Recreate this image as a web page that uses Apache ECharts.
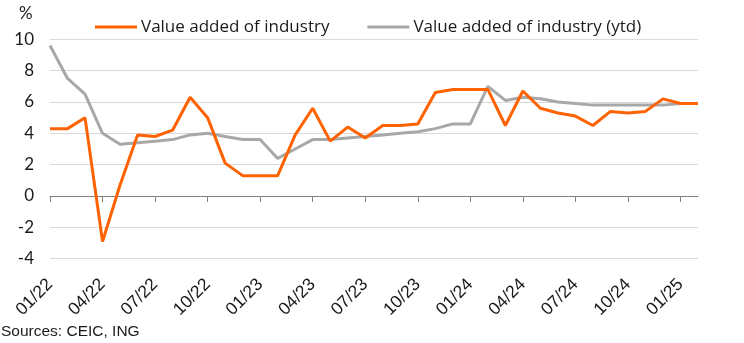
<!DOCTYPE html>
<html>
<head>
<meta charset="utf-8">
<script src="https://cdn.jsdelivr.net/npm/echarts@6/dist/echarts.min.js"></script>
<style>
  html, body { margin: 0; padding: 0; background: #fff; }
  #chart { width: 744px; height: 343px; }
</style>
</head>
<body>
<div id="chart"></div>
<script>
// Monthly observations, 01/22 to 02/25
const months = [
  '01/22','02/22','03/22','04/22','05/22','06/22','07/22','08/22','09/22','10/22','11/22','12/22',
  '01/23','02/23','03/23','04/23','05/23','06/23','07/23','08/23','09/23','10/23','11/23','12/23',
  '01/24','02/24','03/24','04/24','05/24','06/24','07/24','08/24','09/24','10/24','11/24','12/24',
  '01/25','02/25'
];

// Value added of industry, % YoY
const industryYoY = [
  4.3, 4.3, 5.0, -2.9, 0.7, 3.9, 3.8, 4.2, 6.3, 5.0, 2.1, 1.3,
  1.3, 1.3, 3.9, 5.6, 3.5, 4.4, 3.7, 4.5, 4.5, 4.6, 6.6, 6.8,
  6.8, 6.8, 4.5, 6.7, 5.6, 5.3, 5.1, 4.5, 5.4, 5.3, 5.4, 6.2,
  5.9, 5.9
];

// Value added of industry, year-to-date % YoY
const industryYtd = [
  9.6, 7.5, 6.5, 4.0, 3.3, 3.4, 3.5, 3.6, 3.9, 4.0, 3.8, 3.6,
  3.6, 2.4, 3.0, 3.6, 3.6, 3.7, 3.8, 3.9, 4.0, 4.1, 4.3, 4.6,
  4.6, 7.0, 6.1, 6.3, 6.2, 6.0, 5.9, 5.8, 5.8, 5.8, 5.8, 5.8,
  5.9, 5.9
];

const seriesNames = ['Value added of industry', 'Value added of industry (ytd)'];
const yTicks = { min: -4, max: 10, step: 2 };

const ORANGE = '#FF6200';
const GREY = '#A8A8A8';
const FONT = 'Lato, "Noto Sans", sans-serif';
const LEGEND_FONT = '"Open Sans", "Noto Sans", sans-serif';
const LABEL_FONT = '"Liberation Sans", Arial, sans-serif';

const chart = echarts.init(document.getElementById('chart'), null, { renderer: 'canvas' });

chart.setOption({
  animation: false,
  backgroundColor: '#fff',
  grid: { left: 50, right: 46, top: 39.3, bottom: 84.3, containLabel: false },
  legend: {
    left: 90,
    top: 13.5,
    icon: 'rect',
    itemWidth: 42,
    itemHeight: 3,
    itemGap: 38,
    textStyle: { fontFamily: LEGEND_FONT, fontSize: 17, color: '#1a1a1a', padding: [0, 0, 0, -1] },
    data: seriesNames
  },
  graphic: [
    {
      type: 'text', left: 19, top: 5,
      style: { text: '%', font: '17px ' + FONT, fill: '#1a1a1a' }
    },
    {
      type: 'text', left: 1, top: 324,
      style: { text: 'Sources: CEIC, ING', font: '15.5px ' + LABEL_FONT, fill: '#1a1a1a' }
    }
  ],
  xAxis: [
    {
      // category labels along the bottom edge
      type: 'category',
      data: months,
      boundaryGap: false,
      position: 'bottom',
      axisLine: { show: false, onZero: false },
      axisTick: { show: false },
      splitLine: { show: false },
      axisLabel: {
        interval: 2,
        rotate: 45,
        margin: 23,
        fontFamily: LABEL_FONT,
        fontSize: 17.5,
        color: '#1a1a1a'
      }
    },
    {
      // zero line with tick marks every quarter
      type: 'category',
      data: months,
      boundaryGap: false,
      position: 'bottom',
      axisLine: { show: true, onZero: true, lineStyle: { color: '#808080', width: 1 } },
      axisTick: { show: true, interval: 2, length: 6, inside: false, lineStyle: { color: '#808080' } },
      axisLabel: { show: false },
      splitLine: { show: false }
    }
  ],
  yAxis: {
    type: 'value',
    min: yTicks.min,
    max: yTicks.max,
    interval: yTicks.step,
    axisLine: { show: false },
    axisTick: { show: false },
    splitLine: { lineStyle: { color: '#d9d9d9', width: 1 } },
    axisLabel: { margin: 16, fontFamily: FONT, fontSize: 17, color: '#1a1a1a' }
  },
  series: [
    {
      name: seriesNames[1],
      type: 'line',
      data: industryYtd,
      symbol: 'none',
      lineStyle: { color: GREY, width: 3 },
      itemStyle: { color: GREY },
      z: 2
    },
    {
      name: seriesNames[0],
      type: 'line',
      data: industryYoY,
      symbol: 'none',
      lineStyle: { color: ORANGE, width: 3 },
      itemStyle: { color: ORANGE },
      z: 3
    }
  ]
});
</script>
</body>
</html>
